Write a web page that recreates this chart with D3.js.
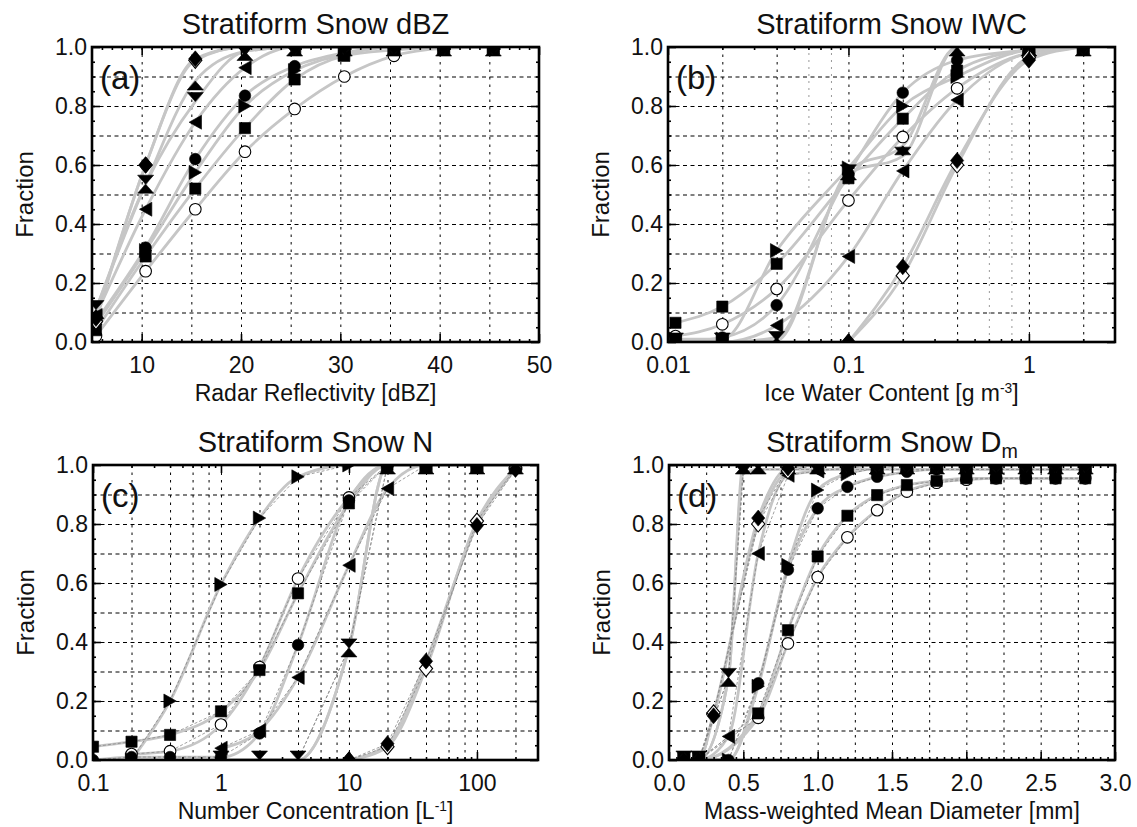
<!DOCTYPE html>
<html>
<head>
<meta charset="utf-8">
<script src="https://cdn.jsdelivr.net/npm/d3@7"></script>
<style>
  body { margin: 0; background: #fff; }
  svg { font-family: "Liberation Sans", Arial, Helvetica, sans-serif; }
</style>
</head>
<body>
<svg id="chart" width="1137" height="827"></svg>
<script>
// marker order used by every fraction table below
var markers = ['diamond', 'diamondOpen', 'circle', 'circleOpen', 'square', 'up', 'down', 'left', 'right'];

// (a) reflectivity
var dbzX = [5.4, 10.4, 15.4, 20.4, 25.4, 30.4, 35.4, 40.4, 45.4];
var dbzFrac = [
  [0.08, 0.60, 0.96, 1.0, 1.0, 1.0, 1.0, 1.0, 1.0],
  [0.07, 0.60, 0.955, 1.0, 1.0, 1.0, 1.0, 1.0, 1.0],
  [0.07, 0.32, 0.62, 0.835, 0.935, 0.98, 1.0, 1.0, 1.0],
  [0.02, 0.24, 0.45, 0.645, 0.79, 0.90, 0.97, 0.995, 1.0],
  [0.04, 0.29, 0.52, 0.725, 0.89, 0.97, 0.99, 1.0, 1.0],
  [0.11, 0.535, 0.885, 0.985, 1.0, 1.0, 1.0, 1.0, 1.0],
  [0.11, 0.535, 0.815, 0.985, 1.0, 1.0, 1.0, 1.0, 1.0],
  [0.09, 0.45, 0.745, 0.93, 1.0, 1.0, 1.0, 1.0, 1.0],
  [0.06, 0.31, 0.575, 0.80, 0.92, 0.975, 1.0, 1.0, 1.0]
];

// (b) ice water content
var iwcX = [0.011, 0.02, 0.04, 0.1, 0.2, 0.4, 1, 2];
var iwcFrac = [
  [null, null, null, 0.0, 0.255, 0.615, 0.955, 1.0],
  [null, null, null, 0.0, 0.225, 0.60, 0.965, 1.0],
  [0.0, 0.015, 0.125, 0.57, 0.845, 0.955, 0.99, 1.0],
  [0.02, 0.06, 0.18, 0.48, 0.695, 0.86, 0.98, 1.0],
  [0.065, 0.12, 0.265, 0.555, 0.757, 0.92, 0.99, 1.0],
  [0.0, 0.0, 0.015, 0.58, 0.665, 1.0, 1.0, 1.0],
  [0.0, 0.0, 0.005, 0.57, 0.63, 1.0, 1.0, 1.0],
  [0.0, 0.0, 0.056, 0.29, 0.58, 0.82, 0.98, 1.0],
  [0.01, 0.01, 0.31, 0.59, 0.80, 0.90, 0.99, 1.0]
];

// (c) number concentration
var numX = [0.1, 0.2, 0.4, 1, 2, 4, 10, 20, 40, 100, 200];
var numFrac = [
  [null, null, null, null, null, null, 0.0, 0.055, 0.335, 0.795, 0.985],
  [null, null, null, null, null, null, 0.0, 0.045, 0.31, 0.81, 0.99],
  [0.0, 0.01, 0.01, 0.01, 0.09, 0.39, 0.88, 1.0, 1.0, 1.0, 1.0],
  [null, 0.02, 0.03, 0.12, 0.315, 0.615, 0.89, 1.0, 1.0, 1.0, 1.0],
  [0.045, 0.062, 0.085, 0.165, 0.305, 0.565, 0.87, 1.0, 1.0, 1.0, 1.0],
  [null, null, null, 0.0, 0.0, 0.0, 0.38, 1.0, 1.0, 1.0, 1.0],
  [null, null, null, 0.0, 0.0, 0.0, 0.38, 1.0, 1.0, 1.0, 1.0],
  [null, null, null, 0.04, 0.10, 0.28, 0.66, 0.92, 1.0, 1.0, 1.0],
  [null, 0.0, 0.20, 0.595, 0.82, 0.96, 1.0, 1.0, 1.0, 1.0, 1.0]
];

// (d) mass-weighted mean diameter
var dmX = [0.1, 0.2, 0.3, 0.4, 0.5, 0.6, 0.8, 1.0, 1.2, 1.4, 1.6, 1.8, 2.0, 2.2, 2.4, 2.6, 2.8];
var dmFrac = [
  [0, 0, 0.15, null, null, 0.82, 0.99, 1.0, 1.0, 1.0, 1.0, 1.0, 1.0, 1.0, 1.0, 1.0, 1.0],
  [0, 0, 0.16, null, null, 0.80, 0.98, 1.0, 1.0, 1.0, 1.0, 1.0, 1.0, 1.0, 1.0, 1.0, 1.0],
  [0, 0, null, 0, null, 0.26, 0.645, 0.853, 0.926, 0.96, 0.977, 0.985, 0.985, 0.985, 0.985, 0.985, 0.985],
  [0, 0, null, null, null, 0.143, 0.395, 0.62, 0.755, 0.847, 0.91, 0.94, 0.95, 0.955, 0.955, 0.955, 0.955],
  [0, 0, null, null, null, 0.158, 0.44, 0.69, 0.828, 0.898, 0.932, 0.946, 0.955, 0.955, 0.955, 0.955, 0.955],
  [0, 0, null, 0.28, 1.0, 1.0, 1.0, 1.0, 1.0, 1.0, 1.0, 1.0, 1.0, 1.0, 1.0, 1.0, 1.0],
  [0, 0, null, 0.28, 0.97, 0.985, 0.985, 0.985, 0.985, 0.985, 0.985, 0.985, 0.985, 0.985, 0.985, 0.985, 0.985],
  [0, 0, null, 0.08, null, 0.70, 0.965, 0.98, 0.99, 1.0, 1.0, 1.0, 1.0, 1.0, 1.0, 1.0, 1.0],
  [0, 0, null, 0, null, 0.25, 0.66, 0.915, 0.97, 0.99, 1.0, 1.0, 1.0, 1.0, 1.0, 1.0, 1.0]
];

// ticks, labels and grid lines
var fracTicks = [0, 0.2, 0.4, 0.6, 0.8, 1.0];
var fracLabels = ['0.0', '0.2', '0.4', '0.6', '0.8', '1.0'];
var fracGrid = [0.1, 0.2, 0.3, 0.4, 0.5, 0.6, 0.7, 0.8, 0.9];

var dbzTicks = [10, 20, 30, 40, 50];
var dbzLabels = ['10', '20', '30', '40', '50'];
var dbzGrid = [10, 15, 20, 25, 30, 35, 40, 45];

var iwcTicks = [0.01, 0.1, 1];
var iwcLabels = ['0.01', '0.1', '1'];
var iwcGrid = [0.02, 0.04, 0.1, 0.2, 0.4, 1, 2];
var iwcGridLight = [0.06, 0.08, 0.6, 0.8];

var numTicks = [0.1, 1, 10, 100];
var numLabels = ['0.1', '1', '10', '100'];
var numGrid = [0.2, 0.4, 0.6, 0.8, 1, 2, 4, 6, 8, 10, 20, 40, 60, 80, 100, 200];

var dmTicks = [0, 0.5, 1, 1.5, 2, 2.5, 3];
var dmLabels = ['0.0', '0.5', '1.0', '1.5', '2.0', '2.5', '3.0'];
var dmGrid = [0.25, 0.5, 0.75, 1, 1.25, 1.5, 1.75, 2, 2.25, 2.5, 2.75];

function logMinor(lo, hi) {
  var out = [];
  for (var e = -3; e <= 3; e++) {
    for (var m = 2; m <= 9; m++) {
      var v = m * Math.pow(10, e);
      if (v > lo && v < hi) out.push(v);
    }
  }
  return out;
}

var panels = [
  { tag: '(a)', x0: 92, x1: 539, y0: 47, y1: 342, log: false, dom: [5, 50],
    xs: dbzX, frac: dbzFrac, ticks: dbzTicks, labels: dbzLabels, grid: dbzGrid, gridLight: [],
    minor: d3.range(6, 50, 1), thin: false,
    title: [['Stratiform Snow dBZ', '']], xtitle: [['Radar Reflectivity [dBZ]', '']] },
  { tag: '(b)', x0: 668, x1: 1115, y0: 47, y1: 342, log: true, dom: [0.01, 3],
    xs: iwcX, frac: iwcFrac, ticks: iwcTicks, labels: iwcLabels, grid: iwcGrid, gridLight: iwcGridLight,
    minor: logMinor(0.01, 3), thin: false,
    title: [['Stratiform Snow IWC', '']], xtitle: [['Ice Water Content [g m', ''], ['-3', 'sup'], [']', '']] },
  { tag: '(c)', x0: 93, x1: 538, y0: 465, y1: 760, log: true, dom: [0.1, 300],
    xs: numX, frac: numFrac, ticks: numTicks, labels: numLabels, grid: numGrid, gridLight: [],
    minor: logMinor(0.1, 300), thin: true,
    title: [['Stratiform Snow N', '']], xtitle: [['Number Concentration [L', ''], ['-1', 'sup'], [']', '']] },
  { tag: '(d)', x0: 669, x1: 1115, y0: 465, y1: 760, log: false, dom: [0, 3],
    xs: dmX, frac: dmFrac, ticks: dmTicks, labels: dmLabels, grid: dmGrid, gridLight: [],
    minor: d3.range(0.05, 3, 0.05), thin: true,
    title: [['Stratiform Snow D', ''], ['m', 'sub']], xtitle: [['Mass-weighted Mean Diameter [mm]', '']] }
];

// shapes, drawn around the point; the up/down triangles hang from their apex
function markerPath(t) {
  switch (t) {
    case 'square': return 'M-5.6,-5.6H5.6V5.6H-5.6Z';
    case 'circle':
    case 'circleOpen': return 'M5.8,0A5.8,5.8 0 1,1 -5.8,0A5.8,5.8 0 1,1 5.8,0Z';
    case 'diamond':
    case 'diamondOpen': return 'M0,-8L6.6,0L0,8L-6.6,0Z';
    case 'up': return 'M0,0L8,9L-8,9Z';
    case 'down': return 'M0,0L8,-9L-8,-9Z';
    case 'left': return 'M-6.2,0L6.2,-7L6.2,7Z';
    case 'right': return 'M6.2,0L-6.2,-7L-6.2,7Z';
  }
}
var drawOrder = [3, 2, 8, 4, 7, 6, 5, 1, 0];

var svg = d3.select('#chart');

function styleAxis(sel) {
  sel.select('.domain').remove();
  sel.attr('font-family', null).attr('font-size', null);
}

function addText(g, parts, size) {
  parts.forEach(function (p) {
    var t = g.append('tspan').text(p[0]);
    if (p[1] === 'sup') t.attr('baseline-shift', '55%').attr('font-size', size * 0.6);
    if (p[1] === 'sub') t.attr('baseline-shift', '-30%').attr('font-size', size * 0.68);
  });
}

panels.forEach(function (p, pi) {
  var x = (p.log ? d3.scaleLog() : d3.scaleLinear()).domain(p.dom).range([p.x0, p.x1]);
  var y = d3.scaleLinear().domain([0, 1]).range([p.y1, p.y0]);
  var w = p.x1 - p.x0, h = p.y1 - p.y0;
  var g = svg.append('g');

  svg.append('clipPath').attr('id', 'clip' + pi)
    .append('rect').attr('x', p.x0).attr('y', p.y0).attr('width', w).attr('height', h);

  // grid
  var gx = g.append('g').attr('transform', 'translate(0,' + p.y1 + ')')
    .call(d3.axisBottom(x).tickValues(p.grid).tickSize(-h).tickFormat(''));
  styleAxis(gx);
  gx.selectAll('line').attr('stroke', '#000').attr('stroke-width', 1).attr('stroke-dasharray', '2.5,5');
  if (p.gridLight.length) {
    var gl = g.append('g').attr('transform', 'translate(0,' + p.y1 + ')')
      .call(d3.axisBottom(x).tickValues(p.gridLight).tickSize(-h).tickFormat(''));
    styleAxis(gl);
    gl.selectAll('line').attr('stroke', '#999').attr('stroke-width', 1).attr('stroke-dasharray', '2,5');
  }
  var gy = g.append('g').attr('transform', 'translate(' + p.x0 + ',0)')
    .call(d3.axisLeft(y).tickValues(fracGrid).tickSize(-w).tickFormat(''));
  styleAxis(gy);
  gy.selectAll('line').attr('stroke', '#000').attr('stroke-width', 1).attr('stroke-dasharray', '4,3.5');

  var plot = g.append('g').attr('clip-path', 'url(#clip' + pi + ')');

  var series = p.frac.map(function (vals) {
    return p.xs.map(function (xv, i) { return [xv, vals[i]]; })
      .filter(function (d) { return d[1] !== null; });
  });

  var line = d3.line().x(function (d) { return x(d[0]); }).y(function (d) { return y(d[1]); });
  var smooth = d3.line().x(function (d) { return x(d[0]); }).y(function (d) { return y(d[1]); })
    .curve(d3.curveMonotoneX);

  // grey fitted curves
  plot.selectAll('path.fit').data(series).enter().append('path')
    .attr('class', 'fit').attr('d', smooth)
    .attr('fill', 'none').attr('stroke', '#c6c6c6').attr('stroke-width', 2.8);

  if (p.thin) {
    plot.selectAll('path.thin').data(series).enter().append('path')
      .attr('class', 'thin').attr('d', line)
      .attr('fill', 'none').attr('stroke', '#888').attr('stroke-width', 0.8)
      .attr('stroke-dasharray', '3,2');
  }

  drawOrder.forEach(function (si) {
    var type = markers[si];
    var open = type === 'circleOpen' || type === 'diamondOpen';
    plot.append('g').selectAll('path').data(series[si]).enter().append('path')
      .attr('d', markerPath(type))
      .attr('transform', function (d) { return 'translate(' + x(d[0]) + ',' + y(d[1]) + ')'; })
      .attr('fill', open ? '#fff' : '#000')
      .attr('stroke', '#000')
      .attr('stroke-width', open ? 1.1 : 0.6);
  });

  // tick marks, inward on all four sides
  function ticks(axis, tr, vals, len) {
    var a = g.append('g').attr('transform', tr).call(axis.tickValues(vals).tickSize(-len).tickFormat(''));
    styleAxis(a);
    a.selectAll('line').attr('stroke', '#000').attr('stroke-width', 1.6);
  }
  ticks(d3.axisBottom(x), 'translate(0,' + p.y1 + ')', p.ticks, 8);
  ticks(d3.axisTop(x), 'translate(0,' + p.y0 + ')', p.ticks, 8);
  ticks(d3.axisBottom(x), 'translate(0,' + p.y1 + ')', p.minor, 3);
  ticks(d3.axisTop(x), 'translate(0,' + p.y0 + ')', p.minor, 3);
  ticks(d3.axisLeft(y), 'translate(' + p.x0 + ',0)', fracTicks, 8);
  ticks(d3.axisRight(y), 'translate(' + p.x1 + ',0)', fracTicks, 8);
  ticks(d3.axisLeft(y), 'translate(' + p.x0 + ',0)', d3.range(0.05, 1, 0.05), 3);
  ticks(d3.axisRight(y), 'translate(' + p.x1 + ',0)', d3.range(0.05, 1, 0.05), 3);

  // box
  g.append('rect').attr('x', p.x0).attr('y', p.y0).attr('width', w).attr('height', h)
    .attr('fill', 'none').attr('stroke', '#000').attr('stroke-width', 2.6);

  // tick labels
  var lx = g.append('g').attr('transform', 'translate(0,' + p.y1 + ')')
    .call(d3.axisBottom(x).tickValues(p.ticks).tickSize(0).tickPadding(15)
      .tickFormat(function (d, i) { return p.labels[i]; }));
  styleAxis(lx);
  lx.selectAll('text').attr('font-size', 23).attr('fill', '#111');

  var ly = g.append('g').attr('transform', 'translate(' + p.x0 + ',0)')
    .call(d3.axisLeft(y).tickValues(fracTicks).tickSize(0).tickPadding(5)
      .tickFormat(function (d, i) { return fracLabels[i]; }));
  styleAxis(ly);
  ly.selectAll('text').attr('font-size', 23).attr('fill', '#111');

  // titles
  var cx = (p.x0 + p.x1) / 2;
  addText(g.append('text').attr('x', cx).attr('y', p.y0 - 13).attr('text-anchor', 'middle')
    .attr('font-size', 29).attr('fill', '#111'), p.title, 29);
  addText(g.append('text').attr('x', cx).attr('y', p.y1 + 59).attr('text-anchor', 'middle')
    .attr('font-size', 23).attr('fill', '#111'), p.xtitle, 23);
  g.append('text').attr('transform', 'translate(' + (p.x0 - 59) + ',' + ((p.y0 + p.y1) / 2) + ') rotate(-90)')
    .attr('text-anchor', 'middle').attr('font-size', 24).attr('fill', '#111').text('Fraction');
  g.append('text').attr('x', p.x0 + 8).attr('y', p.y0 + 42)
    .attr('font-size', 33).attr('fill', '#111').text(p.tag);
});
</script>
</body>
</html>
